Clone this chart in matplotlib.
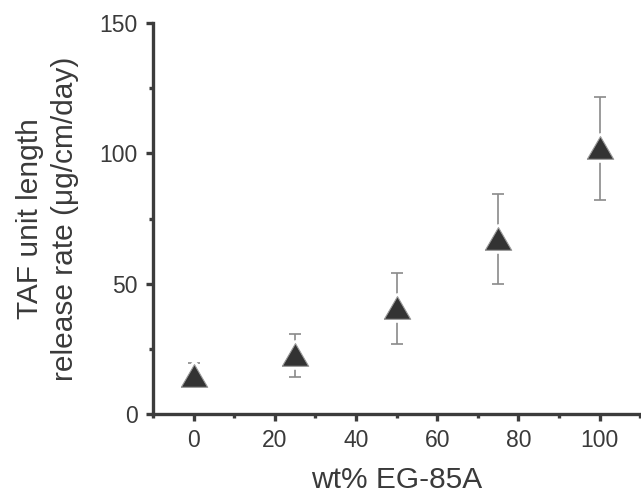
import numpy as np
import matplotlib
matplotlib.use("Agg")
import matplotlib.pyplot as plt
from matplotlib.ticker import MultipleLocator, FixedLocator

# data
wt_pct = [0, 25, 50, 75, 100]
rate = [14.6, 22.5, 40.6, 67.2, 101.9]
rate_err = [5.0, 8.3, 13.7, 17.3, 19.7]

plt.rcParams['font.family'] = ['Liberation Sans', 'DejaVu Sans']
axis_col = '#3c3c3c'

# a triangle a bit wider than tall, like the Origin symbol
tri = [(-1, -0.82), (1, -0.82), (0, 0.9), (-1, -0.82)]

fig = plt.figure(figsize=(6.41, 4.96), dpi=100)
ax = fig.add_axes([0.2387, 0.1653, 0.7613, 0.788])

ax.errorbar(wt_pct, rate, yerr=rate_err, fmt='none', ecolor='#8a8a8a',
            elinewidth=1.2, capsize=4, capthick=1.2, zorder=2)
# white halo gives the small gap between triangle and bar
ax.plot(wt_pct, rate, linestyle='none', marker=tri, markersize=19,
        markerfacecolor='white', markeredgecolor='white',
        markeredgewidth=5, zorder=3)
ax.plot(wt_pct, rate, linestyle='none', marker=tri, markersize=19,
        markerfacecolor='#333333', markeredgecolor='#9a9a9a',
        markeredgewidth=0.8, zorder=4)

ax.set_xlim(-10, 110.2)
ax.set_ylim(0, 150)
ax.xaxis.set_major_locator(FixedLocator([0, 20, 40, 60, 80, 100]))
ax.xaxis.set_minor_locator(FixedLocator([-10, 10, 30, 50, 70, 90, 110]))
ax.yaxis.set_major_locator(MultipleLocator(50))
ax.yaxis.set_minor_locator(FixedLocator([25, 75, 125]))

for s in ['top', 'right']:
    ax.spines[s].set_visible(False)
for s in ['left', 'bottom']:
    ax.spines[s].set_color(axis_col)
    ax.spines[s].set_linewidth(2.4)
    ax.spines[s].set_capstyle('projecting')

ax.tick_params(which='major', direction='out', length=5, width=2.4,
               color=axis_col, labelsize=16.5, labelcolor='#3a3a3a', pad=6)
ax.tick_params(which='minor', direction='out', length=3, width=2.4,
               color=axis_col)

ax.set_xlabel('wt% EG-85A', fontsize=21.5, color='#3a3a3a', labelpad=10)
ax.set_ylabel('TAF unit length\nrelease rate (μg/cm/day)', fontsize=21.5,
              color='#3a3a3a', labelpad=15, linespacing=1.3)

fig.savefig('out.png', dpi=100)
